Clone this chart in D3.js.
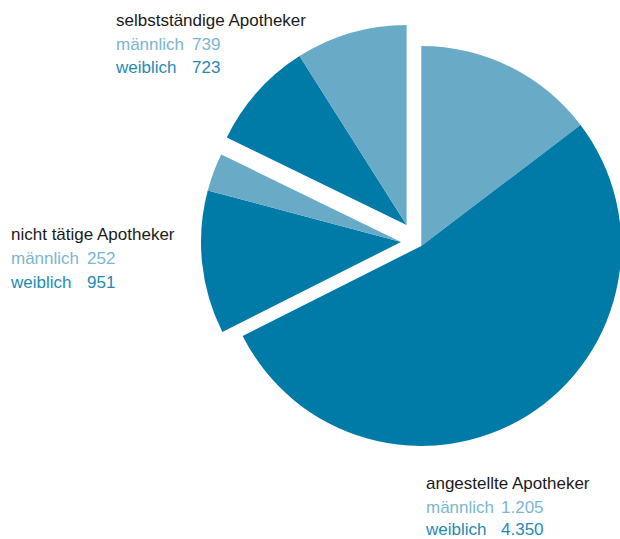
<!DOCTYPE html>
<html><head><meta charset="utf-8">
<script src="https://cdn.jsdelivr.net/npm/d3@7"></script>
<style>body{margin:0;background:#fff}svg{display:block}</style>
</head><body>
<svg id="chart" width="620" height="539"></svg>
<script>
// Data
const groups = ["angestellte Apotheker", "nicht tätige Apotheker", "selbstständige Apotheker"];
const maleValues = [1205, 252, 739];
const femaleValues = [4350, 951, 723];
const genderLabels = ["männlich", "weiblich"];
const valueLabels = [["1.205", "4.350"], ["252", "951"], ["739", "723"]];

const W = 620, H = 539;
const svg = d3.select("#chart");
const dark = "#007aa6", light = "#69aac7";
const darkText = "#1f8ab5", lightText = "#7ab6d1";
const R = 200;

// slice order clockwise from 12 o'clock
const slices = [
  {g: 0, sex: "m", v: maleValues[0]},
  {g: 0, sex: "f", v: femaleValues[0]},
  {g: 1, sex: "f", v: femaleValues[1]},
  {g: 1, sex: "m", v: maleValues[1]},
  {g: 2, sex: "f", v: femaleValues[2]},
  {g: 2, sex: "m", v: maleValues[2]}
];
const pie = d3.pie().sort(null).value(d => d.v);
const arcs = pie(slices);
const arc = d3.arc().innerRadius(0).outerRadius(R);

// exploded group centers
const centers = [[421.3, 246], [401, 242], [406.6, 225]];

svg.append("g").selectAll("path").data(arcs).join("path")
  .attr("transform", d => `translate(${centers[d.data.g][0]},${centers[d.data.g][1]})`)
  .attr("d", arc)
  .attr("fill", d => d.data.sex === "m" ? light : dark);

// labels
const font = "'Liberation Sans Narrow', 'Liberation Sans', sans-serif";
const labelPos = [
  {x: 426, y: 489, vx: 501, dy: [24, 46]},
  {x: 11, y: 239.5, vx: 87, dy: [24.5, 48]},
  {x: 116, y: 26, vx: 192, dy: [23.5, 47]}
];
const lg = svg.append("g").attr("font-family", font).attr("font-size", 17);
groups.forEach((name, i) => {
  const p = labelPos[i];
  lg.append("text").attr("x", p.x).attr("y", p.y).attr("fill", "#1a1a1a").text(name);
  genderLabels.forEach((gl, j) => {
    const col = j === 0 ? lightText : darkText;
    lg.append("text").attr("x", p.x).attr("y", p.y + p.dy[j]).attr("fill", col).text(gl);
    lg.append("text").attr("x", p.vx).attr("y", p.y + p.dy[j]).attr("fill", col).text(valueLabels[i][j]);
  });
});
</script>
</body></html>
